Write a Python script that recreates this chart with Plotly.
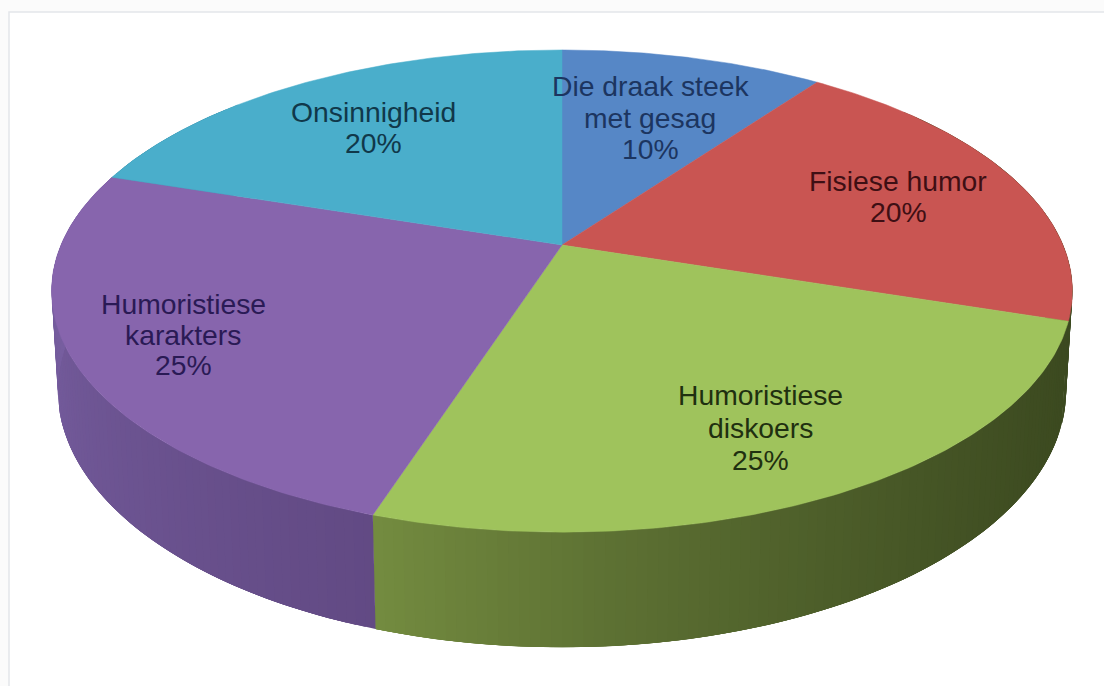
import numpy as np
import plotly.graph_objects as go

# Survey shares, clockwise from twelve o'clock
categories = ["Die draak steek met gesag", "Fisiese humor", "Humoristiese diskoers",
              "Humoristiese karakters", "Onsinnigheid"]
shares = [10, 20, 25, 25, 20]
label_lines = [["Die draak steek", "met gesag", "10%"],
               ["Fisiese humor", "20%"],
               ["Humoristiese", "diskoers", "25%"],
               ["Humoristiese", "karakters", "25%"],
               ["Onsinnigheid", "20%"]]

# Styling
top_colors = ["#5687c6", "#c95552", "#9fc35c", "#8765ad", "#4aaecb"]
text_colors = ["#1c3560", "#3e0f14", "#1f3010", "#2a1a55", "#10384a"]
# Wall shades: (colour at the slice's first angle, colour at its last angle)
wall_shades = [("#3f6290", "#3f6290"), ("#3c4a20", "#3c4a20"), ("#3c4a20", "#748c40"),
               ("#624a84", "#7d64a8"), ("#3a8aa0", "#3a8aa0")]
label_anchors = [(650, 86, 31.5), (898, 181, 31), (760, 395, 32.5), (183, 304, 30.5), (373, 112, 31)]
FONT = "Liberation Sans, Arial, sans-serif"

# Perspective camera for a disc of unit radius, in page pixels
CX, CY = 562.0, 245.0
SCALE_X, SCALE_Y = 501.0, 232.3
TILT, RECEDE, DEPTH = 0.191, 0.012, 98.0


def project(angle_deg, radius=1.0, z=0.0):
    a = np.radians(angle_deg)
    u, v = radius * np.sin(a), radius * np.cos(a)
    w = 1 + TILT * v + RECEDE * z
    return CX + SCALE_X * u / w, CY + (-SCALE_Y * v + DEPTH * z) / w


def mix(c0, c1, t):
    p = [int(c0[i:i + 2], 16) for i in (1, 3, 5)]
    q = [int(c1[i:i + 2], 16) for i in (1, 3, 5)]
    return "rgb(%d,%d,%d)" % tuple(round(a + (b - a) * t) for a, b in zip(p, q))


def polygon(xs, ys, color, name, edge=0.0):
    return go.Scatter(x=xs, y=ys, mode="lines", fill="toself", fillcolor=color,
                      line=dict(color=color, width=edge), hoverinfo="skip" if name is None else "text",
                      text=name, showlegend=False)


edges = 360 * np.cumsum([0] + shares) / sum(shares)
fig = go.Figure()

# Side wall, as narrow shaded strips; each strip runs on under its neighbour to hide seams
for i in range(len(shares)):
    start, stop = edges[i], edges[i + 1]
    cuts = np.linspace(start, stop, int(stop - start) + 1)
    for s0, s1 in zip(cuts[:-1], cuts[1:]):
        if 50 < (s0 + s1) / 2 < 310:
            fine = np.linspace(s0, min(s1 + 3, stop), 5)
            xt, yt = project(fine, 1, 0)
            xb, yb = project(fine[::-1], 1, 1)
            t = ((s0 + s1) / 2 - start) / (stop - start)
            if i == 2:
                # The green wall darkens faster towards the right-hand end
                t = t ** 1.8
            fig.add_trace(polygon(np.r_[xt, xb, xt[0]], np.r_[yt, yb, yt[0]],
                                  mix(*wall_shades[i], t), None))

# Top face
for i, name in enumerate(categories):
    arc = np.linspace(edges[i], edges[i + 1], 120)
    xa, ya = project(arc)
    x0, y0 = project(0.0, 0.0)
    fig.add_trace(polygon(np.r_[x0, xa, x0], np.r_[y0, ya, y0], top_colors[i],
                          f"{name}: {shares[i]}%", edge=0.5))

# Data labels, one annotation per line for tight leading
annotations = []
for lines, (ax, ay, lead), tc in zip(label_lines, label_anchors, text_colors):
    for j, line in enumerate(lines):
        annotations.append(dict(x=ax, y=ay + j * lead, text=line, showarrow=False,
                                xanchor="center", yanchor="middle",
                                font=dict(family=FONT, size=28.3, color=tc)))

fig.update_layout(
    width=1104, height=686, margin=dict(l=0, r=0, t=0, b=0),
    paper_bgcolor="#fbfbfb", plot_bgcolor="rgba(0,0,0,0)",
    xaxis=dict(range=[0, 1104], visible=False, fixedrange=True),
    yaxis=dict(range=[686, 0], visible=False, fixedrange=True),
    annotations=annotations,
    shapes=[dict(type="rect", xref="paper", yref="paper", x0=9 / 1104, x1=1.01,
                 y0=-0.01, y1=1 - 12 / 686, fillcolor="white",
                 line=dict(color="#e4e6ea", width=1.5), layer="below")],
)
fig.write_html("out.html", config=dict(displayModeBar=False))
